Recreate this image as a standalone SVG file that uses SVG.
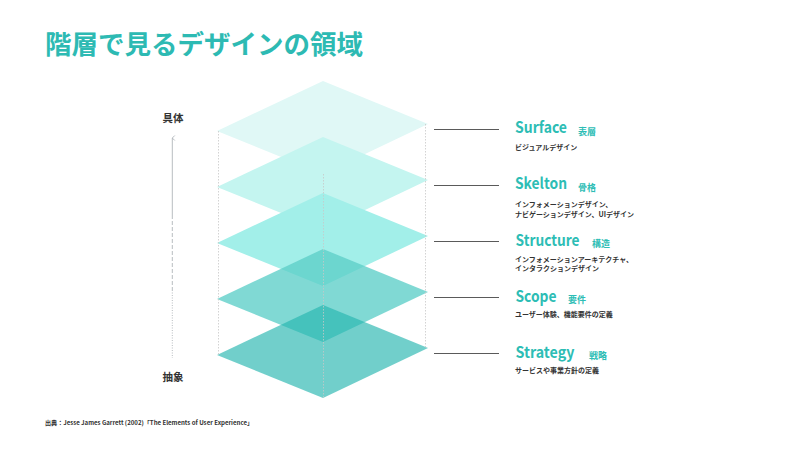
<svg xmlns="http://www.w3.org/2000/svg" width="800" height="450" viewBox="0 0 800 450">
<defs>
<style>
text{font-family:"Noto Sans CJK JP","Noto Sans",sans-serif;font-weight:700}
.title{font-size:26.5px;fill:#2dbab3}
.name{font-size:15.5px;fill:#2dbdb5}
.jp{font-size:9px;fill:#2dbdb5}
.desc{font-size:7px;fill:#333}
.axis{font-size:10.5px;fill:#333}
.foot{font-size:6.2px;fill:#333}
.lead{stroke:#5a5a5a;stroke-width:1;fill:none}
.guide{stroke:#c8c8c8;stroke-width:0.8;stroke-dasharray:1.5 1.5;fill:none}
</style>
<marker id="ah" viewBox="0 0 6 6" refX="3" refY="1" markerWidth="6" markerHeight="6" orient="auto-start-reverse" markerUnits="userSpaceOnUse">
<path d="M0.5,3.5 L3,1 L5.5,3.5" fill="none" stroke="#b0b6ba" stroke-width="0.9"/>
</marker>
</defs>
<rect width="800" height="450" fill="#fff"/>
<text class="title" x="45" y="54">階層で見るデザインの領域</text>

<g id="layer-surface"><polygon points="323,81 428,124 323,174 217,131" fill="#e0f8f6"/></g>
<g id="layer-skelton"><polygon points="323,137 428,180 323,230 217,187" fill="#c4f5f0"/></g>
<g id="layer-structure"><polygon points="323,193 428,236 323,286 217,243" fill="#a2efe9"/></g>
<g id="layer-scope"><polygon points="323,249 428,292 323,342 217,299" fill="#5ccec8" fill-opacity="0.78"/></g>
<g id="layer-strategy"><polygon points="323,305 428,348 323,398 217,355" fill="#25b6af" fill-opacity="0.65"/></g>

<g id="connectors">
<line class="guide" x1="218.5" y1="131" x2="218.5" y2="355"/>
<line class="guide" x1="425.5" y1="124" x2="425.5" y2="348"/>
<line class="guide" x1="323.5" y1="174" x2="323.5" y2="398"/>
<line class="lead" x1="434" y1="129.5" x2="499" y2="129.5"/>
<line class="lead" x1="434" y1="185.5" x2="499" y2="185.5"/>
<line class="lead" x1="434" y1="241.5" x2="499" y2="241.5"/>
<line class="lead" x1="434" y1="297.5" x2="499" y2="297.5"/>
<line class="lead" x1="434" y1="353.5" x2="499" y2="353.5"/>
<line x1="172.3" y1="215" x2="172.3" y2="138" stroke="#b0b6ba" stroke-width="0.9" marker-end="url(#ah)"/>
<line x1="172.3" y1="215" x2="172.3" y2="290" stroke="#b0b6ba" stroke-width="0.9" stroke-dasharray="4 2"/>
<line x1="172.3" y1="290" x2="172.3" y2="358" stroke="#b0b6ba" stroke-width="0.9" stroke-dasharray="1 1.5"/>
</g>

<g id="axis-labels">
<text class="axis" x="162.5" y="122">具体</text>
<text class="axis" x="162.5" y="381">抽象</text>
</g>

<g id="label-surface">
<text class="name" x="515" y="133" textLength="52" lengthAdjust="spacingAndGlyphs">Surface</text>
<text class="jp" x="578" y="135">表層</text>
<text class="desc" x="515" y="150">ビジュアルデザイン</text>
</g>
<g id="label-skelton">
<text class="name" x="515" y="189" textLength="52" lengthAdjust="spacingAndGlyphs">Skelton</text>
<text class="jp" x="578" y="191">骨格</text>
<text class="desc" x="515" y="207">インフォメーションデザイン、</text>
<text class="desc" x="515" y="216.5">ナビゲーションデザイン、UIデザイン</text>
</g>
<g id="label-structure">
<text class="name" x="515.5" y="246" textLength="64" lengthAdjust="spacingAndGlyphs">Structure</text>
<text class="jp" x="592" y="247">構造</text>
<text class="desc" x="515" y="261.5">インフォメーションアーキテクチャ、</text>
<text class="desc" x="515" y="270.5">インタラクションデザイン</text>
</g>
<g id="label-scope">
<text class="name" x="515.5" y="302" textLength="41" lengthAdjust="spacingAndGlyphs">Scope</text>
<text class="jp" x="568" y="303">要件</text>
<text class="desc" x="515" y="317">ユーザー体験、機能要件の定義</text>
</g>
<g id="label-strategy">
<text class="name" x="515.5" y="358" textLength="59" lengthAdjust="spacingAndGlyphs">Strategy</text>
<text class="jp" x="589" y="359">戦略</text>
<text class="desc" x="515" y="373">サービスや事業方針の定義</text>
</g>

<text class="foot" x="45" y="425" textLength="208" lengthAdjust="spacingAndGlyphs">出典：Jesse James Garrett (2002)「The Elements of User Experience」</text>
</svg>
